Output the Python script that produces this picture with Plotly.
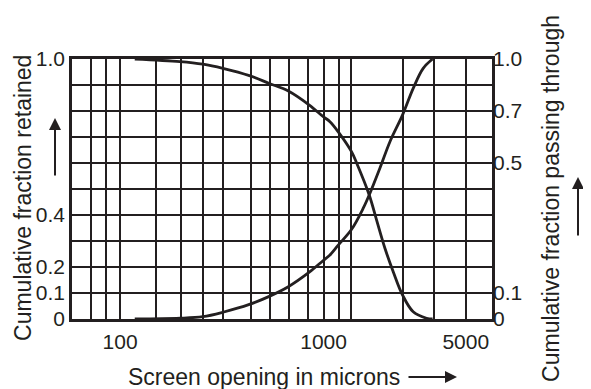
import numpy as np
import plotly.graph_objects as go

# Data (screen opening in microns vs cumulative fraction)
retained_x = [118, 197, 255, 320, 432, 541, 671, 851, 997, 1075, 1181, 1374, 1454, 1677, 1823, 2003, 2200, 2446, 2758, 3209, 3435]
retained_y = [1.0, 0.99, 0.98, 0.964, 0.936, 0.906, 0.877, 0.823, 0.778, 0.759, 0.72, 0.643, 0.6, 0.477, 0.38, 0.272, 0.182, 0.092, 0.028, 0.003, 0.0]

passing_x = [118, 197, 255, 320, 432, 541, 671, 851, 997, 1075, 1181, 1374, 1567, 1677, 1892, 2120, 2446, 2758, 3088, 3435]
passing_y = [0.0, 0.003, 0.009, 0.026, 0.056, 0.087, 0.124, 0.18, 0.225, 0.246, 0.284, 0.345, 0.426, 0.477, 0.58, 0.682, 0.785, 0.887, 0.964, 1.0]

x_grid = [72, 85, 100, 150, 200, 255, 320, 440, 545, 680, 840, 1000, 1185, 1370, 2450, 3500, 5000]
x_labels = {100: "100", 1000: "1000", 5000: "5000"}

y_grid = [0.0, 0.1, 0.2, 0.3, 0.4, 0.5, 0.6, 0.7, 0.8, 0.9, 1.0]
y_left_labels = {0.0: "0", 0.1: "0.1", 0.2: "0.2", 0.4: "0.4", 1.0: "1.0"}

y_right_vals = [0.0, 0.1, 0.6, 0.8, 1.0]
y_right_text = ["0", "0.1", "0.5", "0.7", "1.0"]

x_range = [58, 6730]

INK = "#231f20"
FONT = "Liberation Sans, Arial, sans-serif"

fig = go.Figure()
fig.add_trace(go.Scatter(x=retained_x, y=retained_y, mode="lines",
                         line=dict(color=INK, width=2.8, shape="spline", smoothing=1.0),
                         showlegend=False, hoverinfo="skip"))
fig.add_trace(go.Scatter(x=passing_x, y=passing_y, mode="lines", yaxis="y2",
                         line=dict(color=INK, width=2.8, shape="spline", smoothing=1.0),
                         showlegend=False, hoverinfo="skip"))

# page body has an 8px margin: figure is placed at (8, 8)
fig.update_layout(
    width=583, height=381,
    margin=dict(l=64, r=99, t=51, b=70, pad=0),
    paper_bgcolor="white", plot_bgcolor="white",
    font=dict(family=FONT, size=21, color=INK),
    xaxis=dict(type="log", range=[np.log10(x_range[0]), np.log10(x_range[1])],
               tickmode="array", tickvals=x_grid,
               ticktext=[x_labels.get(v, "") for v in x_grid],
               showgrid=True, gridcolor=INK, gridwidth=1.6,
               showline=True, linecolor=INK, linewidth=2.5, mirror=True,
               ticks="", zeroline=False, ticklabelstandoff=2),
    yaxis=dict(range=[0, 1], tickmode="array", tickvals=y_grid,
               ticktext=[y_left_labels.get(v, "") for v in y_grid],
               showgrid=True, gridcolor=INK, gridwidth=1.6,
               showline=True, linecolor=INK, linewidth=2.5, mirror=True,
               ticks="", zeroline=False, ticklabelstandoff=0),
    yaxis2=dict(range=[0, 1], overlaying="y", side="right",
                tickmode="array", tickvals=y_right_vals, ticktext=y_right_text,
                showgrid=False, ticks="", zeroline=False, showline=False,
                ticklabelstandoff=0),
)

annotations = [
    dict(text="Screen opening in microns", xref="paper", yref="paper",
         x=0.456, y=-0.223, xanchor="center", yanchor="middle", showarrow=False,
         font=dict(size=23)),
    dict(text="Cumulative fraction retained", xref="paper", yref="paper",
         x=-0.117, y=0.465, xanchor="center", yanchor="middle", textangle=-90,
         showarrow=False, font=dict(size=23)),
    dict(text="Cumulative fraction passing through", xref="paper", yref="paper",
         x=1.14, y=0.465, xanchor="center", yanchor="middle", textangle=-90,
         showarrow=False, font=dict(size=23)),
]
# arrows
annotations += [
    dict(text="", xref="paper", yref="paper", x=(457 - 72) / 420, y=(319 - 377) / 260,
         ax=-50, ay=0, showarrow=True, arrowhead=2, arrowsize=1.2, arrowwidth=2, arrowcolor=INK),
    dict(text="", xref="paper", yref="paper", x=(55 - 72) / 420, y=(319 - 118) / 260,
         ax=0, ay=59, showarrow=True, arrowhead=2, arrowsize=1.2, arrowwidth=2, arrowcolor=INK),
    dict(text="", xref="paper", yref="paper", x=(578 - 72) / 420, y=(319 - 177) / 260,
         ax=0, ay=60, showarrow=True, arrowhead=2, arrowsize=1.2, arrowwidth=2, arrowcolor=INK),
]
fig.update_layout(annotations=annotations)

fig.write_html("out.html")
